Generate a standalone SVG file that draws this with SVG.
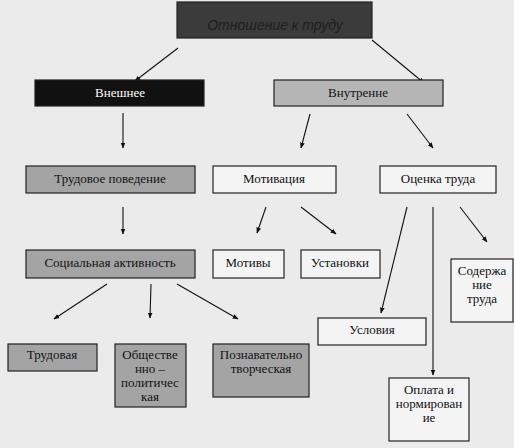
<svg xmlns="http://www.w3.org/2000/svg" width="514" height="448" viewBox="0 0 514 448">
<defs>
<marker id="ah" viewBox="0 0 10 10" refX="9" refY="5" markerWidth="6" markerHeight="6" markerUnits="userSpaceOnUse" orient="auto">
<path d="M0,1 L10,5 L0,9 Z" fill="#111"/>
</marker>
<style>
.box{stroke:#222;stroke-width:1.2}
.dark{fill:#3b3b3b}
.black{fill:#111}
.mid{fill:#b5b5b5}
.gray{fill:#a4a4a4}
.white{fill:#f4f4f4}
.t{font-family:'Liberation Serif','DejaVu Serif',serif;font-size:13px;fill:#111;text-anchor:middle}
.tw{fill:#fff}
.title{font-family:'Liberation Sans',Arial,sans-serif;font-size:14px;font-style:italic;fill:#1e1e1e;text-anchor:middle}
.c{stroke:#111;stroke-width:1.1;fill:none;marker-end:url(#ah)}
</style>
</defs>
<rect width="514" height="448" fill="#ebebeb"/>
<g id="connectors">
<line class="c" x1="178" y1="48" x2="135" y2="81"/>
<line class="c" x1="372" y1="40" x2="424" y2="83"/>
<line class="c" x1="123" y1="113" x2="123" y2="148"/>
<line class="c" x1="310" y1="114" x2="301" y2="148"/>
<line class="c" x1="407" y1="114" x2="433" y2="148"/>
<line class="c" x1="123" y1="207" x2="123" y2="234"/>
<line class="c" x1="266" y1="207" x2="257" y2="233"/>
<line class="c" x1="301" y1="207" x2="336" y2="234"/>
<line class="c" x1="407" y1="207" x2="381" y2="313"/>
<line class="c" x1="433" y1="207" x2="433" y2="375"/>
<line class="c" x1="460" y1="207" x2="487" y2="242"/>
<line class="c" x1="107" y1="284" x2="54" y2="319"/>
<line class="c" x1="151" y1="284" x2="150" y2="318"/>
<line class="c" x1="177" y1="284" x2="238" y2="319"/>
</g>
<g id="n-root"><rect class="box dark" x="177" y="2" width="195" height="36"/><text class="title" x="275" y="30">Отношение к труду</text></g>
<g id="n-ext"><rect class="box black" x="35" y="80" width="169" height="26"/><text class="t tw" x="120" y="97">Внешнее</text></g>
<g id="n-int"><rect class="box mid" x="274" y="80" width="169" height="26"/><text class="t" x="358" y="97">Внутренне</text></g>
<g id="n-behav"><rect class="box gray" x="26" y="166" width="169" height="27"/><text class="t" x="110" y="183">Трудовое поведение</text></g>
<g id="n-motiv"><rect class="box white" x="213" y="166" width="123" height="27"/><text class="t" x="274" y="183">Мотивация</text></g>
<g id="n-eval"><rect class="box white" x="380" y="166" width="116" height="27"/><text class="t" x="438" y="183">Оценка труда</text></g>
<g id="n-social"><rect class="box gray" x="26" y="250" width="169" height="28"/><text class="t" x="110" y="267">Социальная активность</text></g>
<g id="n-motives"><rect class="box white" x="213" y="250" width="71" height="28"/><text class="t" x="248" y="267">Мотивы</text></g>
<g id="n-attit"><rect class="box white" x="301" y="250" width="79" height="28"/><text class="t" x="340" y="267">Установки</text></g>
<g id="n-content"><rect class="box white" x="451" y="259" width="62" height="63"/><text class="t" x="482" y="275">Содержа</text><text class="t" x="482" y="289">ние</text><text class="t" x="482" y="303">труда</text></g>
<g id="n-cond"><rect class="box white" x="318" y="318" width="108" height="27"/><text class="t" x="372" y="334">Условия</text></g>
<g id="n-labor"><rect class="box gray" x="8" y="344" width="89" height="27"/><text class="t" x="52" y="359">Трудовая</text></g>
<g id="n-pol"><rect class="box gray" x="115" y="344" width="71" height="63"/><text class="t" x="150" y="359">Обществе</text><text class="t" x="150" y="373">нно –</text><text class="t" x="150" y="387">политичес</text><text class="t" x="150" y="401">кая</text></g>
<g id="n-cogn"><rect class="box gray" x="213" y="344" width="96" height="53"/><text class="t" x="261" y="359">Познавательно</text><text class="t" x="261" y="373">творческая</text></g>
<g id="n-pay"><rect class="box white" x="389" y="378" width="80" height="63"/><text class="t" x="429" y="394">Оплата и</text><text class="t" x="429" y="408">нормирован</text><text class="t" x="429" y="422">ие</text></g>
</svg>
